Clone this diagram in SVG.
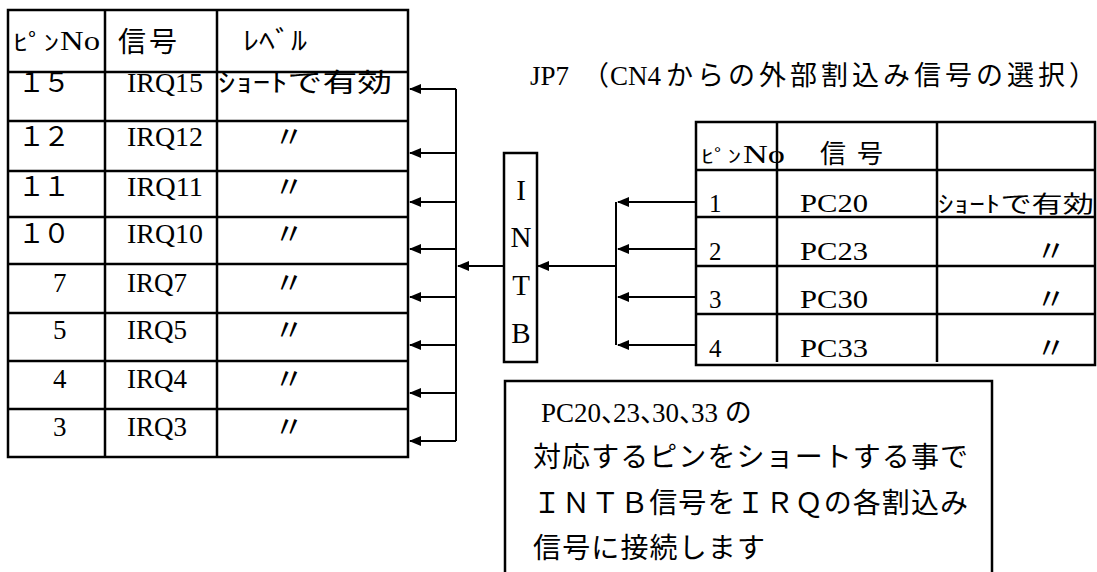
<svg xmlns="http://www.w3.org/2000/svg" width="1097" height="572" viewBox="0 0 1097 572">
<style>
  .t { font-family: "Liberation Serif", "Noto Sans CJK JP", serif; fill: #000; }
  .c { font-family: "Noto Sans CJK JP", "Liberation Serif", sans-serif; fill: #000; }
  .grid { stroke: #000; stroke-width: 2.5; fill: none; }
  .box { stroke: #000; stroke-width: 2.5; fill: #fff; }
  .wire { stroke: #000; stroke-width: 2; fill: none; }
  .ditto { font-family: "Noto Sans CJK JP", sans-serif; font-size: 30px; fill: #000; }
  .cm { letter-spacing: -15px; }
</style>
<defs>
  <marker id="ah" markerUnits="userSpaceOnUse" markerWidth="12" markerHeight="10" refX="11" refY="5" orient="auto">
    <path d="M0,0 L12,5 L0,10 Z" fill="#000"/>
  </marker>
</defs>
<rect width="1097" height="572" fill="#fff"/>

<g id="irq-table">
  <rect class="grid" x="8" y="10" width="400" height="447"/>
  <path class="grid" d="M105,10 V457 M217,10 V457 M8,72 H408 M8,121 H408 M8,171 H408 M8,217 H408 M8,264 H408 M8,313 H408 M8,361 H408 M8,409 H408"/>
  <text class="c" x="13" y="50" font-size="22" textLength="46" lengthAdjust="spacingAndGlyphs">ﾋﾟﾝ</text>
  <text class="t" x="60" y="50" font-size="27" textLength="40" lengthAdjust="spacingAndGlyphs">No</text>
  <text class="c" x="118" y="52" font-size="28" textLength="59">信号</text>
  <text class="c" x="243" y="50" font-size="26" textLength="64" lengthAdjust="spacingAndGlyphs">ﾚﾍﾞﾙ</text>
  <g font-size="27">
    <text class="c" x="18" y="92" textLength="52">１５</text>
    <text class="c" x="18" y="146" textLength="52">１２</text>
    <text class="c" x="18" y="196" textLength="52">１１</text>
    <text class="c" x="18" y="243" textLength="52">１０</text>
    <text class="t" x="53" y="292">7</text>
    <text class="t" x="53" y="339">5</text>
    <text class="t" x="53" y="388">4</text>
    <text class="t" x="53" y="436">3</text>
    <text class="t" x="127" y="92" textLength="76" lengthAdjust="spacingAndGlyphs">IRQ15</text>
    <text class="t" x="127" y="146" textLength="76" lengthAdjust="spacingAndGlyphs">IRQ12</text>
    <text class="t" x="127" y="196" textLength="76" lengthAdjust="spacingAndGlyphs">IRQ11</text>
    <text class="t" x="127" y="243" textLength="76" lengthAdjust="spacingAndGlyphs">IRQ10</text>
    <text class="t" x="127" y="292" textLength="60" lengthAdjust="spacingAndGlyphs">IRQ7</text>
    <text class="t" x="127" y="339" textLength="60" lengthAdjust="spacingAndGlyphs">IRQ5</text>
    <text class="t" x="127" y="388" textLength="60" lengthAdjust="spacingAndGlyphs">IRQ4</text>
    <text class="t" x="127" y="436" textLength="60" lengthAdjust="spacingAndGlyphs">IRQ3</text>
    <text class="c" x="218" y="92" font-size="26" textLength="174" lengthAdjust="spacingAndGlyphs">ｼｮｰﾄで有効</text>
  </g>
  <text class="ditto" x="274" y="147">〃</text>
  <text class="ditto" x="274" y="197">〃</text>
  <text class="ditto" x="274" y="244">〃</text>
  <text class="ditto" x="274" y="293">〃</text>
  <text class="ditto" x="274" y="340">〃</text>
  <text class="ditto" x="274" y="389">〃</text>
  <text class="ditto" x="274" y="437">〃</text>
</g>

<g id="title">
  <text class="t" x="530" y="85" font-size="27">JP7</text>
  <text class="c" x="582" y="85" font-size="27">（</text>
  <text class="t" x="610" y="85" font-size="27">CN4</text>
  <text class="c" x="666" y="85" font-size="27" textLength="430">からの外部割込み信号の選択）</text>
</g>

<g id="intb">
  <rect class="box" x="504" y="153" width="33" height="209"/>
  <g font-size="29" text-anchor="middle">
    <text class="t" x="521" y="200">I</text>
    <text class="t" x="521" y="247">N</text>
    <text class="t" x="521" y="295">T</text>
    <text class="t" x="521" y="343">B</text>
  </g>
</g>

<g id="pc-table">
  <rect class="grid" x="696" y="122" width="399" height="243"/>
  <path class="grid" d="M777,122 V362 M937,122 V362 M696,170 H1095 M696,217 H1095 M696,266 H1095 M696,314 H1095"/>
  <text class="c" x="701" y="163" font-size="18" textLength="40" lengthAdjust="spacingAndGlyphs">ﾋﾟﾝ</text>
  <text class="t" x="743" y="163" font-size="25" textLength="42" lengthAdjust="spacingAndGlyphs">No</text>
  <text class="c" x="820" y="163" font-size="26" textLength="63">信 号</text>
  <g font-size="25">
    <text class="t" x="709" y="212">1</text>
    <text class="t" x="709" y="260">2</text>
    <text class="t" x="709" y="308">3</text>
    <text class="t" x="709" y="357">4</text>
    <text class="t" x="800" y="212" textLength="68" lengthAdjust="spacingAndGlyphs">PC20</text>
    <text class="t" x="800" y="260" textLength="68" lengthAdjust="spacingAndGlyphs">PC23</text>
    <text class="t" x="800" y="308" textLength="68" lengthAdjust="spacingAndGlyphs">PC30</text>
    <text class="t" x="800" y="357" textLength="68" lengthAdjust="spacingAndGlyphs">PC33</text>
    <text class="c" x="938" y="212" font-size="23" textLength="156" lengthAdjust="spacingAndGlyphs">ｼｮｰﾄで有効</text>
  </g>
  <text class="ditto" x="1036" y="261">〃</text>
  <text class="ditto" x="1036" y="309">〃</text>
  <text class="ditto" x="1036" y="358">〃</text>
</g>

<g id="note">
  <rect class="box" x="505" y="381" width="487" height="200"/>
  <text class="t" x="541" y="422" font-size="27">PC20<tspan class="cm">、</tspan>23<tspan class="cm">、</tspan>30<tspan class="cm">、</tspan>33 の</text>
  <g font-size="28">
    <text class="c" x="533" y="467" textLength="435">対応するピンをショートする事で</text>
    <text class="c" x="533" y="513" textLength="435">ＩＮＴＢ信号をＩＲＱの各割込み</text>
    <text class="c" x="533" y="558" textLength="232">信号に接続します</text>
  </g>
</g>

<g id="connectors">
  <path class="wire" d="M456,89 V441"/>
  <path class="wire" marker-end="url(#ah)" d="M456,89 H410"/>
  <path class="wire" marker-end="url(#ah)" d="M456,153 H410"/>
  <path class="wire" marker-end="url(#ah)" d="M456,202 H410"/>
  <path class="wire" marker-end="url(#ah)" d="M456,249 H410"/>
  <path class="wire" marker-end="url(#ah)" d="M456,297 H410"/>
  <path class="wire" marker-end="url(#ah)" d="M456,345 H410"/>
  <path class="wire" marker-end="url(#ah)" d="M456,393 H410"/>
  <path class="wire" marker-end="url(#ah)" d="M456,441 H410"/>
  <path class="wire" marker-end="url(#ah)" d="M504,266 H458"/>
  <path class="wire" d="M616,202 V345"/>
  <path class="wire" marker-end="url(#ah)" d="M616,266 H538"/>
  <path class="wire" marker-end="url(#ah)" d="M697,202 H618"/>
  <path class="wire" marker-end="url(#ah)" d="M697,249 H618"/>
  <path class="wire" marker-end="url(#ah)" d="M697,297 H618"/>
  <path class="wire" marker-end="url(#ah)" d="M697,345 H618"/>
</g>
</svg>
